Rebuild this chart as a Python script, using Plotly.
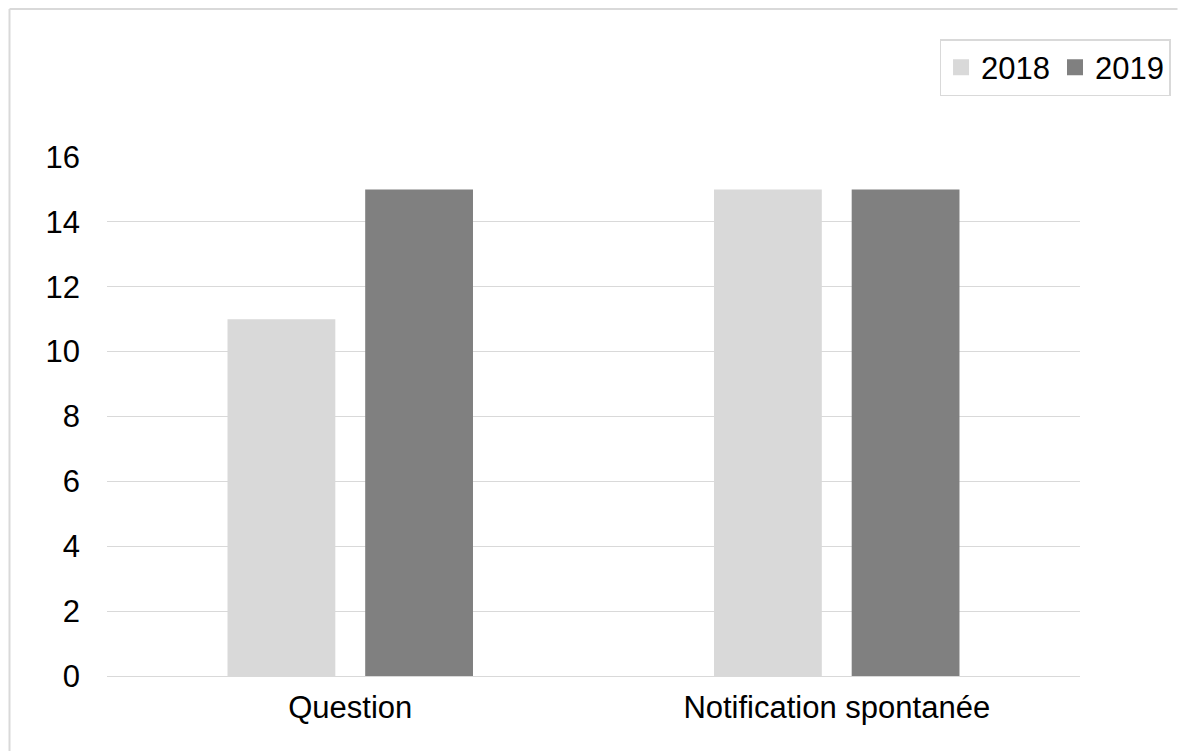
import plotly.graph_objects as go

categories = ["Question", "Notification spontanée"]
series_names = ["2018", "2019"]
values_2018 = [11, 15]
values_2019 = [15, 15]
colors = ["#d9d9d9", "#808080"]
y_ticks = [0, 2, 4, 6, 8, 10, 12, 14, 16]

W, H = 1183, 751
L, R, T, B = 107, 98, 157, 75
pw, ph = W - L - R, H - T - B

def px_x(p):
    return (p - L) / pw

def px_y(p):
    return (H - B - p) / ph

fig = go.Figure()
for name, vals, col in zip(series_names, [values_2018, values_2019], colors):
    fig.add_trace(go.Bar(x=categories, y=vals, name=name, marker_color=col,
                         marker_line_width=0, showlegend=False))
for name, col in zip(series_names, colors):
    fig.add_trace(go.Scatter(x=[None], y=[None], mode="markers", name=name,
                             marker=dict(symbol="square", size=16, color=col)))

font = dict(family="Liberation Sans, Arial, sans-serif", size=31, color="#000000")
border = dict(color="#d9d9d9", width=2)

fig.update_layout(
    width=W, height=H,
    margin=dict(l=L, r=R, t=T, b=B, pad=0),
    paper_bgcolor="white", plot_bgcolor="white",
    font=font,
    barmode="group", bargap=0.434, bargroupgap=0.217,
    showlegend=True,
    legend=dict(orientation="h", x=px_x(1176), xanchor="right",
                y=px_y(39), yanchor="top",
                bordercolor="#d9d9d9", borderwidth=1.5,
                font=font, itemwidth=30, tracegroupgap=0,
                bgcolor="white"),
    modebar=dict(bgcolor="rgba(0,0,0,0)", color="rgba(0,0,0,0)",
                 activecolor="rgba(0,0,0,0)"),
    xaxis=dict(showgrid=False, showline=False, ticks="", tickfont=font,
               ticklabelstandoff=10),
    yaxis=dict(range=[0, 16], tickvals=y_ticks, showgrid=True, gridcolor="#d9d9d9",
               gridwidth=1.3, zeroline=True, zerolinecolor="#d9d9d9", zerolinewidth=1.3,
               showline=False, ticks="", tickfont=font, ticklabelstandoff=26),
    shapes=[
        dict(type="line", xref="paper", yref="paper",
             x0=px_x(9), x1=px_x(1183), y0=px_y(9), y1=px_y(9), line=border, layer="below"),
        dict(type="line", xref="paper", yref="paper",
             x0=px_x(9), x1=px_x(9), y0=px_y(9), y1=px_y(751), line=border, layer="below"),
    ],
)

# remove the default page margin so the figure fills the window exactly
fig.write_html(
    "out.html",
    config={"displaylogo": False},
    post_script="document.body.style.margin='0';"
                "document.documentElement.style.overflow='hidden';",
)
